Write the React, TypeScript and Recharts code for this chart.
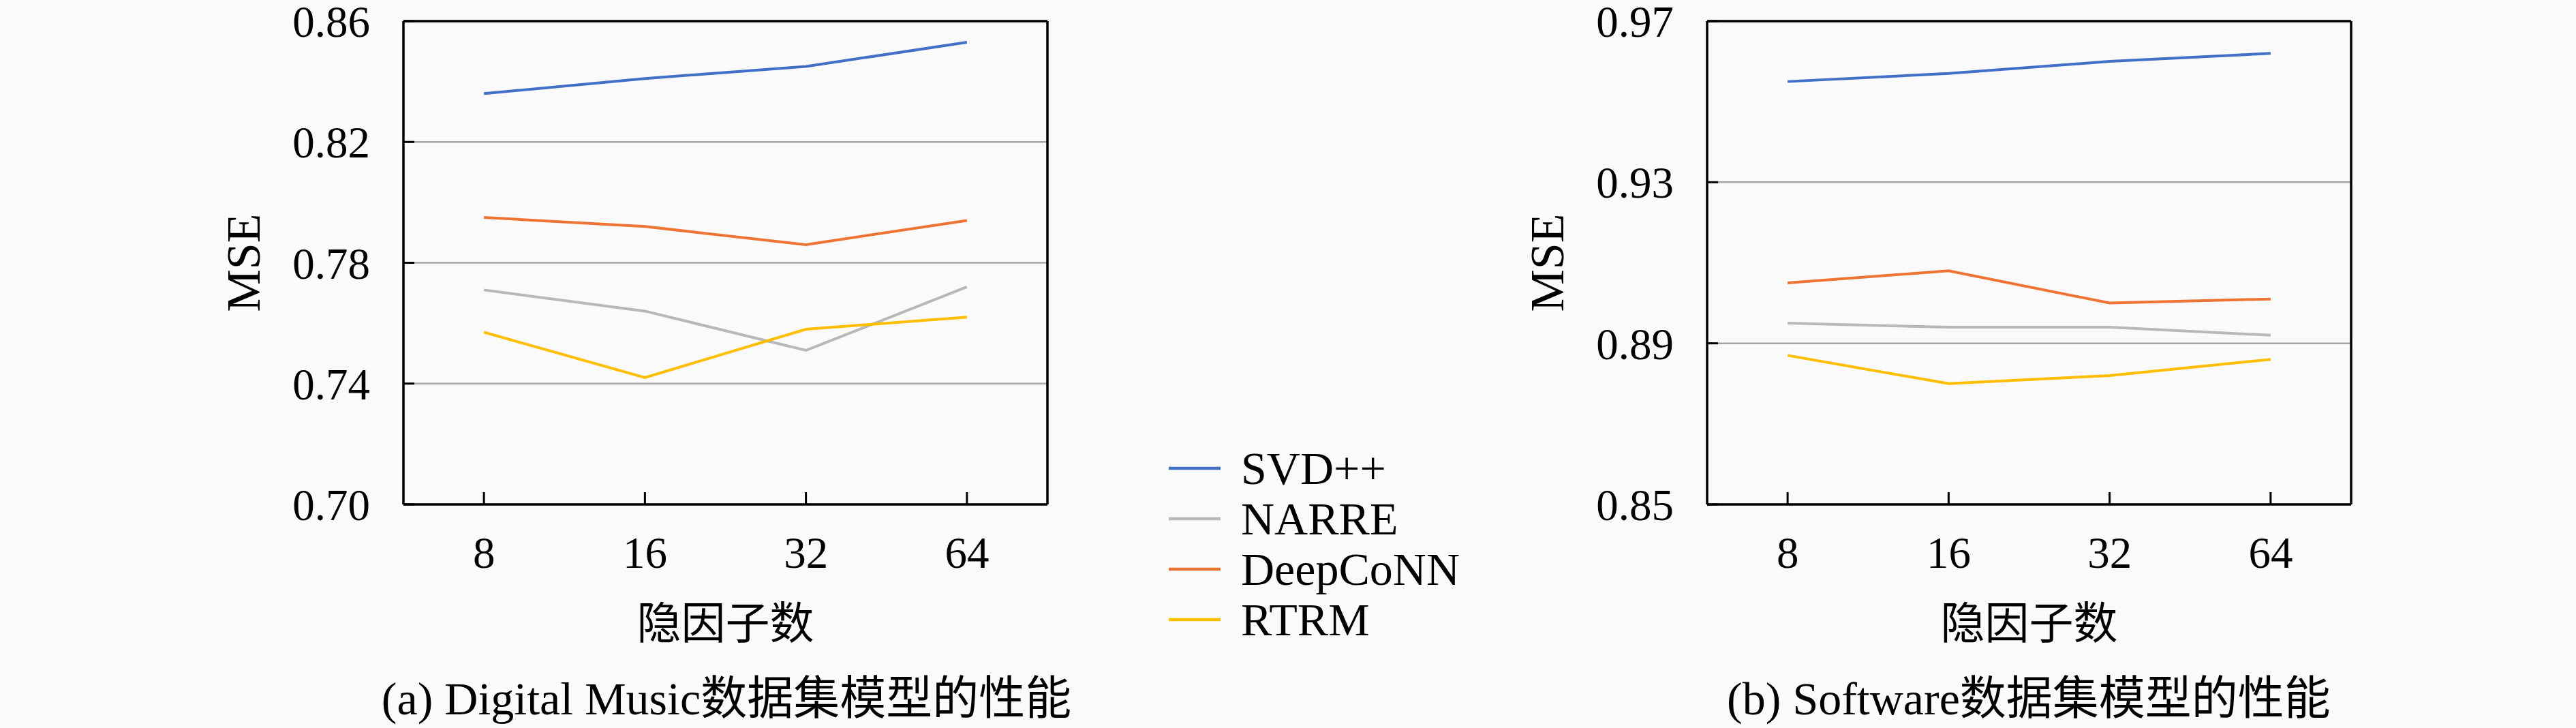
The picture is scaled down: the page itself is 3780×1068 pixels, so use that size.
import React from 'react';
import { LineChart, Line, XAxis, YAxis, CartesianGrid, Legend, ReferenceLine } from 'recharts';

const categories = ['8', '16', '32', '64'];
const seriesNames = ['SVD++', 'NARRE', 'DeepCoNN', 'RTRM'];
const seriesColors = ['#4270C6', '#B8B8B8', '#EE7434', '#FFBE00'];

const musicSvd = [0.836, 0.841, 0.845, 0.853];
const musicNarre = [0.771, 0.764, 0.751, 0.772];
const musicDeep = [0.795, 0.792, 0.786, 0.794];
const musicRtrm = [0.757, 0.742, 0.758, 0.762];
const musicTicks = [0.7, 0.74, 0.78, 0.82, 0.86];

const softSvd = [0.955, 0.957, 0.96, 0.962];
const softNarre = [0.895, 0.894, 0.894, 0.892];
const softDeep = [0.905, 0.908, 0.9, 0.901];
const softRtrm = [0.887, 0.88, 0.882, 0.886];
const softTicks = [0.85, 0.89, 0.93, 0.97];

const xTitle = '隐因子数';
const yTitle = 'MSE';
const captionA = '(a) Digital Music数据集模型的性能';
const captionB = '(b) Software数据集模型的性能';

// categories are placed at positions 1..n on a numeric axis spanning [0.5, n + 0.5]
const xPositions = categories.map((_, i) => i + 1);
const xDomain = [0.5, categories.length + 0.5];

const buildRows = (series: number[][]) =>
  categories.map((c, i) => {
    const row: Record<string, any> = { k: c, x: xPositions[i] };
    seriesNames.forEach((n, j) => {
      row[n] = series[j][i];
    });
    return row;
  });

const musicRows = buildRows([musicSvd, musicNarre, musicDeep, musicRtrm]);
const softRows = buildRows([softSvd, softNarre, softDeep, softRtrm]);

const H = 1068;
const SERIF = "'Liberation Serif', 'Noto Sans CJK SC', serif";
const PLOT_TOP = 31;
const PLOT_BOTTOM = 740;
const YAXIS_W = 300;
const XAXIS_H = 300;

const tickStyle = { fontFamily: SERIF, fontSize: 65, fill: '#000' };

const LegendContent = (props: any) => {
  const payload = [...(props.payload || [])].sort(
    (a: any, b: any) => seriesNames.indexOf(a.value) - seriesNames.indexOf(b.value)
  );
  return (
    <div style={{ fontFamily: SERIF, fontSize: 68, color: '#000' }}>
      {payload.map((p: any) => (
        <div key={p.value} style={{ display: 'flex', alignItems: 'center', height: 74 }}>
          <svg width={76} height={10} style={{ display: 'block' }}>
            <line x1={0} y1={5} x2={76} y2={5} stroke={p.color} strokeWidth={4.5} />
          </svg>
          <span style={{ marginLeft: 30, lineHeight: '74px', whiteSpace: 'nowrap' }}>{p.value}</span>
        </div>
      ))}
    </div>
  );
};

function Panel(props: {
  rows: any[];
  ticks: number[];
  left: number;
  width: number;
  plotLeft: number;
  plotRight: number;
  legend?: boolean;
}) {
  const { rows, ticks, left, width, plotLeft, plotRight, legend } = props;
  const domain = [ticks[0], ticks[ticks.length - 1]];
  return (
    <div style={{ position: 'absolute', left, top: 0 }}>
      <LineChart
        width={width}
        height={H}
        data={rows}
        margin={{
          top: PLOT_TOP,
          right: width - (plotRight - left),
          bottom: H - PLOT_BOTTOM - XAXIS_H,
          left: plotLeft - left - YAXIS_W,
        }}
      >
        <CartesianGrid horizontal vertical={false} stroke="#a4a4a4" strokeWidth={2.5} />
        <XAxis
          dataKey="x"
          type="number"
          domain={xDomain}
          ticks={xPositions}
          allowDataOverflow
          interval={0}
          tickFormatter={(v: number) => categories[v - 1]}
          height={XAXIS_H}
          axisLine={{ stroke: '#000', strokeWidth: 3.5 }}
          tickLine={{ stroke: '#000', strokeWidth: 3 }}
          tickSize={-18}
          tickMargin={65}
          tick={tickStyle}
          label={{
            value: xTitle,
            position: 'insideTop',
            offset: 151,
            style: { fontFamily: SERIF, fontSize: 65, fill: '#000' },
          }}
        />
        <YAxis
          type="number"
          domain={domain}
          ticks={ticks}
          interval={0}
          width={YAXIS_W}
          allowDataOverflow
          tickFormatter={(v: number) => v.toFixed(2)}
          axisLine={{ stroke: '#000', strokeWidth: 3.5 }}
          tickLine={{ stroke: '#000', strokeWidth: 3 }}
          tickSize={-16}
          tickMargin={65}
          tick={tickStyle}
          label={{
            value: yTitle,
            angle: -90,
            position: 'insideLeft',
            offset: 64,
            style: { fontFamily: SERIF, fontSize: 70, fill: '#000', textAnchor: 'middle' },
          }}
        />
        <ReferenceLine y={domain[1]} stroke="#000" strokeWidth={3.5} ifOverflow="extendDomain" />
        <ReferenceLine x={xDomain[1]} stroke="#000" strokeWidth={3.5} ifOverflow="extendDomain" />
        {seriesNames.map((n, i) => (
          <Line
            key={n}
            type="linear"
            dataKey={n}
            name={n}
            stroke={seriesColors[i]}
            strokeWidth={4}
            dot={false}
            activeDot={false}
            isAnimationActive={false}
          />
        ))}
        {legend ? (
          <Legend
            layout="vertical"
            align="center"
            verticalAlign="middle"
            width={500}
            content={LegendContent}
            wrapperStyle={{ position: 'absolute', left: 1715, top: 650, width: 500 }}
          />
        ) : null}
      </LineChart>
    </div>
  );
}

const captionStyle = (center: number): React.CSSProperties => ({
  position: 'absolute',
  left: center - 700,
  width: 1400,
  top: 985,
  height: 80,
  lineHeight: '80px',
  textAlign: 'center',
  fontFamily: SERIF,
  fontSize: 68,
  color: '#000',
  whiteSpace: 'nowrap',
});

export default function App() {
  return (
    <div
      style={{
        position: 'absolute',
        left: 0,
        top: 0,
        width: 3780,
        height: H,
        background: '#fafafa',
        overflow: 'hidden',
      }}
    >
      <Panel rows={musicRows} ticks={musicTicks} left={0} width={2000} plotLeft={592} plotRight={1537} legend />
      <Panel rows={softRows} ticks={softTicks} left={2000} width={1780} plotLeft={2505} plotRight={3450} />
      <div style={captionStyle(1066)}>{captionA}</div>
      <div style={captionStyle(2977)}>{captionB}</div>
    </div>
  );
}
